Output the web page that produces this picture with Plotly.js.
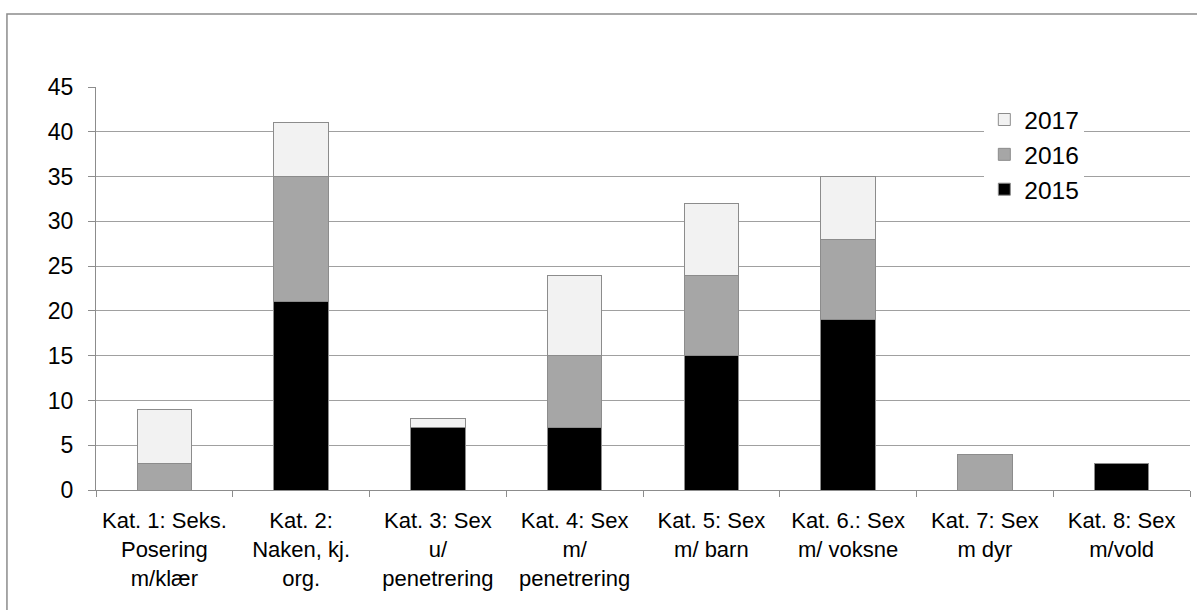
<!DOCTYPE html>
<html>
<head>
<meta charset="utf-8">
<script src="https://cdn.plot.ly/plotly-3.0.1.min.js"></script>
<style>
html,body{margin:0;padding:0;background:#fff;}
#chart{width:1197px;height:610px;}
</style>
</head>
<body>
<div id="chart"></div>
<script>
const categories = [
  "Kat. 1: Seks.<br>Posering<br>m/klær",
  "Kat. 2:<br>Naken, kj.<br>org.",
  "Kat. 3: Sex<br>u/<br>penetrering",
  "Kat. 4: Sex<br>m/<br>penetrering",
  "Kat. 5: Sex<br>m/ barn",
  "Kat. 6.: Sex<br>m/ voksne",
  "Kat. 7: Sex<br>m dyr",
  "Kat. 8: Sex<br>m/vold"
];
const values2015 = [0, 21, 7, 7, 15, 19, 0, 3];
const values2016 = [3, 14, 0, 8, 9, 9, 4, 0];
const values2017 = [6, 6, 1, 9, 8, 7, 0, 0];
const yTicks = [0, 5, 10, 15, 20, 25, 30, 35, 40, 45];

const outline = {color: '#8c8c8c', width: 1};
const traces = [
  {type: 'bar', name: '2015', x: categories, y: values2015, marker: {color: '#000000', line: outline}},
  {type: 'bar', name: '2016', x: categories, y: values2016, marker: {color: '#a6a6a6', line: outline}},
  {type: 'bar', name: '2017', x: categories, y: values2017, marker: {color: '#f2f2f2', line: outline}}
];

const layout = {
  width: 1197, height: 610,
  margin: {l: 96, r: 7, t: 87, b: 120},
  barmode: 'stack',
  bargap: 0.6,
  paper_bgcolor: '#fff', plot_bgcolor: '#fff',
  font: {family: 'Liberation Sans, Arial, sans-serif', size: 22, color: '#000'},
  showlegend: true,
  legend: {
    traceorder: 'reversed', x: 0.812, y: 0.975, xanchor: 'left', yanchor: 'top',
    bgcolor: '#ffffff', font: {size: 24.5}, itemwidth: 30, tracegroupgap: 0,
    borderwidth: 0
  },
  xaxis: {
    type: 'category', tickson: 'boundaries', ticks: 'outside', ticklen: 6,
    tickcolor: '#8c8c8c', showline: true, linecolor: '#8c8c8c', linewidth: 1,
    showgrid: false, tickfont: {size: 22}, automargin: false,
    ticklabelstandoff: 11
  },
  yaxis: {
    range: [0, 45], tickvals: yTicks, ticks: 'outside', ticklen: 7,
    tickcolor: '#8c8c8c', showline: true, linecolor: '#8c8c8c', linewidth: 1,
    showgrid: true, gridcolor: '#a0a0a0', gridwidth: 1, zeroline: false,
    tickfont: {size: 23}, automargin: false, ticklabelstandoff: 10
  },
  shapes: [{
    type: 'rect', xref: 'paper', yref: 'paper',
    x0: -0.0814, x1: 1.2, y0: -0.5, y1: 1.181,
    line: {color: '#8c8c8c', width: 1.5}, fillcolor: 'rgba(0,0,0,0)', layer: 'below'
  }]
};

Plotly.newPlot('chart', traces, layout, {displayModeBar: false, staticPlot: true});
</script>
</body>
</html>
